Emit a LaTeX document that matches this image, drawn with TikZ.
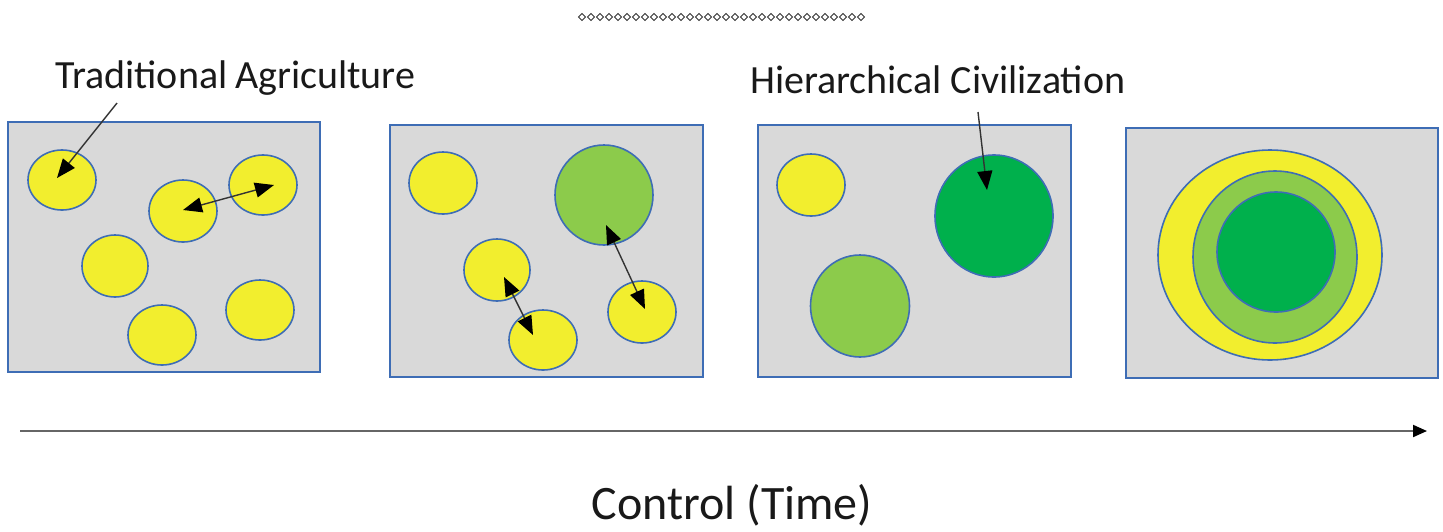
\documentclass[tikz,border=0pt]{standalone}
\usepackage{fontspec}
\setmainfont{Carlito}
\usetikzlibrary{arrows.meta,shapes.geometric}
\definecolor{boxfill}{HTML}{D9D9D9}
\definecolor{edgeblue}{HTML}{3E6DB5}
\definecolor{yel}{HTML}{F2EE2E}
\definecolor{lgreen}{HTML}{8CCB4B}
\definecolor{dgreen}{HTML}{00B04C}
\definecolor{arrowgray}{HTML}{333333}
\tikzset{
  panel/.style={draw=edgeblue,line width=1.8pt,fill=boxfill,rectangle,inner sep=0pt},
  blob/.style={ellipse,draw=edgeblue,line width=1.6pt,inner sep=0pt},
  ycirc/.style={blob,fill=yel},
  lcirc/.style={blob,fill=lgreen},
  dcirc/.style={blob,fill=dgreen},
  conn/.style={draw=arrowgray,line width=1.4pt,-{Triangle[length=19pt,width=15pt,fill=black,color=black]}},
  biconn/.style={draw=arrowgray,line width=1.4pt,{Triangle[length=19pt,width=15pt,fill=black,color=black]}-{Triangle[length=19pt,width=15pt,fill=black,color=black]}},
  label/.style={font=\fontsize{40}{42}\selectfont,anchor=base west,inner sep=0pt,text=black!90},
  diam/.style={draw=black!80,line width=0.9pt}
}
\newcommand{\blobat}[6]{\node[#1,minimum width=#4pt,minimum height=#5pt] (#6) at (#2,#3) {};}
\begin{document}
\begin{tikzpicture}[x=1pt,y=-1pt]
\useasboundingbox (0,0) rectangle (1443,531);
% dotted diamond rule
\foreach \i in {0,...,31} {
  \draw[diam] ({582+9*\i},13.5) -- ({585.5+9*\i},17) -- ({582+9*\i},20.5) -- ({578.5+9*\i},17) -- cycle;
}
% labels
\node[label] (lab1) at (55,88) {Traditional\hspace{0.2em}Agriculture};
\node[label] (lab2) at (750,93) {Hierarchical Civilization};
\node[font=\fontsize{48}{50}\selectfont,anchor=base,inner sep=0pt,text=black!90] (lab3) at (732,519) {Control (Time)};
% panels
\node[panel,minimum width=312pt,minimum height=250pt] (p1) at (164,247) {};
\node[panel,minimum width=313pt,minimum height=252pt] (p2) at (546.5,251) {};
\node[panel,minimum width=313pt,minimum height=252pt] (p3) at (914.5,251) {};
\node[panel,minimum width=312pt,minimum height=250pt] (p4) at (1282,253) {};
% panel 1
\blobat{ycirc}{62}{180}{68}{60}{a1}
\blobat{ycirc}{183}{211}{68}{62}{a2}
\blobat{ycirc}{263}{185}{68}{60}{a3}
\blobat{ycirc}{115}{266}{66}{62}{a4}
\blobat{ycirc}{162}{335}{68}{60}{a5}
\blobat{ycirc}{260}{310}{68}{60}{a6}
% panel 2
\blobat{ycirc}{443}{183}{68}{62}{b1}
\blobat{lcirc}{604}{195}{98}{100}{b2}
\blobat{ycirc}{497}{270}{66}{62}{b3}
\blobat{ycirc}{543}{340}{68}{60}{b4}
\blobat{ycirc}{642}{312}{68}{62}{b5}
% panel 3
\blobat{ycirc}{811}{185}{68}{62}{c1}
\blobat{lcirc}{860}{306}{99}{102}{c2}
\blobat{dcirc}{994}{216}{118}{122}{c3}
% panel 4
\blobat{ycirc}{1270}{255}{224}{210}{d1}
\blobat{lcirc}{1275}{257}{164}{172}{d2}
\blobat{dcirc}{1276}{252}{118}{120}{d3}
% arrow end points
\coordinate (s1) at (117,103);
\coordinate (e1) at (57,178);
\coordinate (s2) at (183,210);
\coordinate (e2) at (274,185);
\coordinate (s3) at (504,277);
\coordinate (e3) at (533,335);
\coordinate (s4) at (606,225);
\coordinate (e4) at (645,309);
\coordinate (s5) at (978,112);
\coordinate (e5) at (987,190);
\draw[conn] (s1) -- (e1);
\draw[biconn] (s2) -- (e2);
\draw[biconn] (s3) -- (e3);
\draw[biconn] (s4) -- (e4);
\draw[conn] (s5) -- (e5);
% time axis
\coordinate (t0) at (20,431);
\coordinate (t1) at (1427,431);
\draw[draw=black!60,line width=2pt,-{Triangle[length=14pt,width=12pt,fill=black,color=black]}] (t0) -- (t1);
\end{tikzpicture}
\end{document}
